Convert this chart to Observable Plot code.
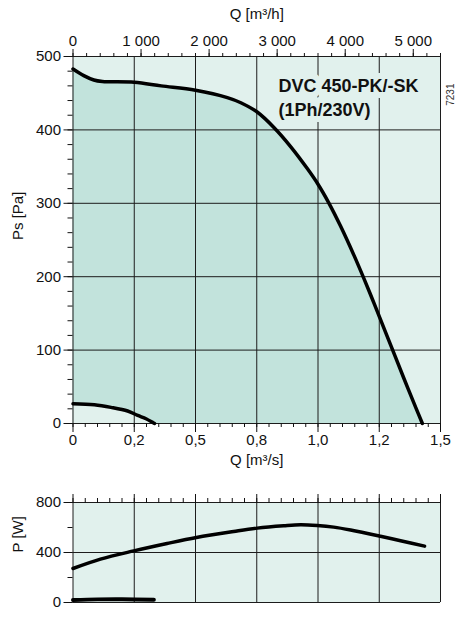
<!DOCTYPE html>
<html>
<head>
<meta charset="utf-8">
<script src="https://cdn.jsdelivr.net/npm/d3@7"></script>
<script src="https://cdn.jsdelivr.net/npm/@observablehq/plot@0.6"></script>
<style>
  html, body { margin: 0; padding: 0; background: #ffffff; }
  #chart svg { display: block; }
</style>
</head>
<body>
<div id="chart"></div>
<script>
// ---------- data ----------
// Main fan curve: Q [m³/s] vs static pressure Ps [Pa]
const qMain  = [0, 0.044, 0.085, 0.12, 0.25, 0.36, 0.50, 0.63, 0.685, 0.753, 0.821, 0.889, 0.957, 1.0, 1.045, 1.092, 1.147, 1.188, 1.22, 1.25, 1.30, 1.35, 1.40, 1.426];
const psMain = [483, 474, 468, 466, 465, 460, 454, 444, 437, 424, 403, 377, 347, 326, 300, 269, 229, 197, 171, 146, 104, 62, 21, 0];
// Low-speed curve
const qLow  = [0, 0.087, 0.155, 0.223, 0.264, 0.298, 0.325, 0.333];
const psLow = [27, 25.5, 22, 17, 11, 6.5, 1.5, 0];
// Power curves: Q [m³/s] vs P [W]
const qPow = [0, 0.112, 0.248, 0.384, 0.504, 0.656, 0.752, 0.86, 0.929, 0.997, 1.064, 1.133, 1.255, 1.337, 1.435];
const pPow = [272, 347, 413, 472, 520, 568, 595, 614, 622, 616, 603, 580, 530, 494, 451];
const qPowLow = [0, 0.1, 0.2, 0.33];
const pPowLow = [20, 25, 26, 22];

// Ticks & labels
const qsTicks  = [0, 0.25, 0.5, 0.75, 1.0, 1.25, 1.5];
const qsLabels = ["0", "0,2", "0,5", "0,8", "1,0", "1,2", "1,5"];
const qsMinor  = d3.range(0, 1.5001, 0.05);
const qhTicks  = [0, 1000, 2000, 3000, 4000, 5000];
const qhLabels = ["0", "1 000", "2 000", "3 000", "4 000", "5 000"];
const qhMinor  = d3.range(0, 5401, 200);
const psTicks  = [0, 100, 200, 300, 400, 500];
const psMinor  = d3.range(0, 501, 20);
const pTicks   = [0, 400, 800];
const pMinor   = [0, 200, 400, 600, 800];
const pGrid    = [0, 400, 800];

const titleText = "DVC 450-PK/-SK\n(1Ph/230V)";
const codeText = "7231";

// ---------- styling ----------
const light = "#e1f1ed";
const dark  = "#c2e3dc";
const gridColor = "#1c1c1c";
const font = "'Liberation Sans', Arial, Helvetica, sans-serif";

const mainData = qMain.map((q, i) => ({q, v: psMain[i]}));
const lowData  = qLow.map((q, i) => ({q, v: psLow[i]}));
const powData  = qPow.map((q, i) => ({q, v: pPow[i]}));
const powLowData = qPowLow.map((q, i) => ({q, v: pPowLow[i]}));

const near = (a, b) => Math.abs(a - b) < 1e-9;
const blank = () => "";

const pressurePlot = Plot.plot({
  width: 456,
  height: 470,
  marginLeft: 72.5,
  marginRight: 16,
  marginTop: 56,
  marginBottom: 47,
  style: {fontFamily: font, fontSize: "15px", color: "#111", background: "transparent"},
  x: {domain: [0, 1.5]},
  y: {domain: [0, 500]},
  marks: [
    Plot.frame({fill: light, stroke: null}),
    Plot.areaY(mainData, {x: "q", y: "v", fill: dark, curve: "catmull-rom"}),
    Plot.areaY(lowData, {x: "q", y: "v", fill: light, curve: "catmull-rom"}),
    Plot.ruleY(psTicks, {stroke: gridColor, strokeWidth: 1}),
    Plot.ruleX(qsTicks, {stroke: gridColor, strokeWidth: 1}),
    Plot.text([titleText], {
      frameAnchor: "top-left", dx: 205.5, dy: 18, textAnchor: "start", lineAnchor: "top",
      fontWeight: "bold", fontSize: 18, lineHeight: 1.36, fill: "#111",
      stroke: light, strokeWidth: 12
    }),
    Plot.line(mainData, {x: "q", y: "v", stroke: "#000", strokeWidth: 3.5, curve: "catmull-rom"}),
    Plot.line(lowData, {x: "q", y: "v", stroke: "#000", strokeWidth: 3.5, curve: "catmull-rom"}),
    // left axis
    Plot.axisY({ticks: psTicks, tickSize: 9, tickPadding: 3, label: null, tickFormat: d => String(d)}),
    Plot.axisY({ticks: psMinor, tickSize: 5, label: null, tickFormat: blank}),
    // bottom axis (m³/s)
    Plot.axisX({anchor: "bottom", ticks: qsTicks, tickSize: 9, tickPadding: 2, label: null,
      tickFormat: d => qsLabels[qsTicks.findIndex(v => near(v, d))]}),
    Plot.axisX({anchor: "bottom", ticks: qsMinor, tickSize: 4, label: null, tickFormat: blank}),
    // top axis (m³/h)
    Plot.axisX({anchor: "top", ticks: qhTicks.map(v => v / 3600), tickSize: 8, tickPadding: 3, label: null,
      tickFormat: d => qhLabels[qhTicks.findIndex(v => near(v / 3600, d))]}),
    Plot.axisX({anchor: "top", ticks: qhMinor.map(v => v / 3600), tickSize: 4, label: null, tickFormat: blank}),
    // axis titles
    Plot.text(["Q [m³/h]"], {frameAnchor: "top", dy: -42, lineAnchor: "middle", fontSize: 15, fill: "#111"}),
    Plot.text(["Q [m³/s]"], {frameAnchor: "bottom", dy: 37, lineAnchor: "middle", fontSize: 15, fill: "#111"}),
    Plot.text(["Ps [Pa]"], {frameAnchor: "left", dx: -55, rotate: -90, lineAnchor: "middle", fontSize: 15, fill: "#111"}),
    Plot.text([codeText], {frameAnchor: "top-right", dx: 10, dy: 27, rotate: -90, lineAnchor: "middle", fontSize: 10, fill: "#333"})
  ]
});

const powerPlot = Plot.plot({
  width: 456,
  height: 147,
  marginLeft: 72.5,
  marginRight: 16,
  marginTop: 32,
  marginBottom: 15,
  style: {fontFamily: font, fontSize: "15px", color: "#111", background: "transparent"},
  x: {domain: [0, 1.5]},
  y: {domain: [0, 800]},
  marks: [
    Plot.frame({fill: light, stroke: null}),
    Plot.ruleY(pGrid, {stroke: gridColor, strokeWidth: 1}),
    Plot.ruleX(qsTicks, {stroke: gridColor, strokeWidth: 1}),
    Plot.line(powData, {x: "q", y: "v", stroke: "#000", strokeWidth: 3.5, curve: "catmull-rom"}),
    Plot.line(powLowData, {x: "q", y: "v", stroke: "#000", strokeWidth: 4, curve: "catmull-rom"}),
    Plot.axisY({ticks: pTicks, tickSize: 9, tickPadding: 3, label: null, tickFormat: d => String(d)}),
    Plot.axisY({ticks: pMinor, tickSize: 5, label: null, tickFormat: blank}),
    Plot.axisX({anchor: "top", ticks: qsTicks, tickSize: 9, label: null, tickFormat: blank}),
    Plot.axisX({anchor: "top", ticks: qsMinor, tickSize: 5, label: null, tickFormat: blank}),
    Plot.text(["P [W]"], {frameAnchor: "left", dx: -55, rotate: -90, lineAnchor: "middle", fontSize: 15, fill: "#111"})
  ]
});

const host = document.getElementById("chart");
host.appendChild(pressurePlot);
host.appendChild(powerPlot);
</script>
</body>
</html>
